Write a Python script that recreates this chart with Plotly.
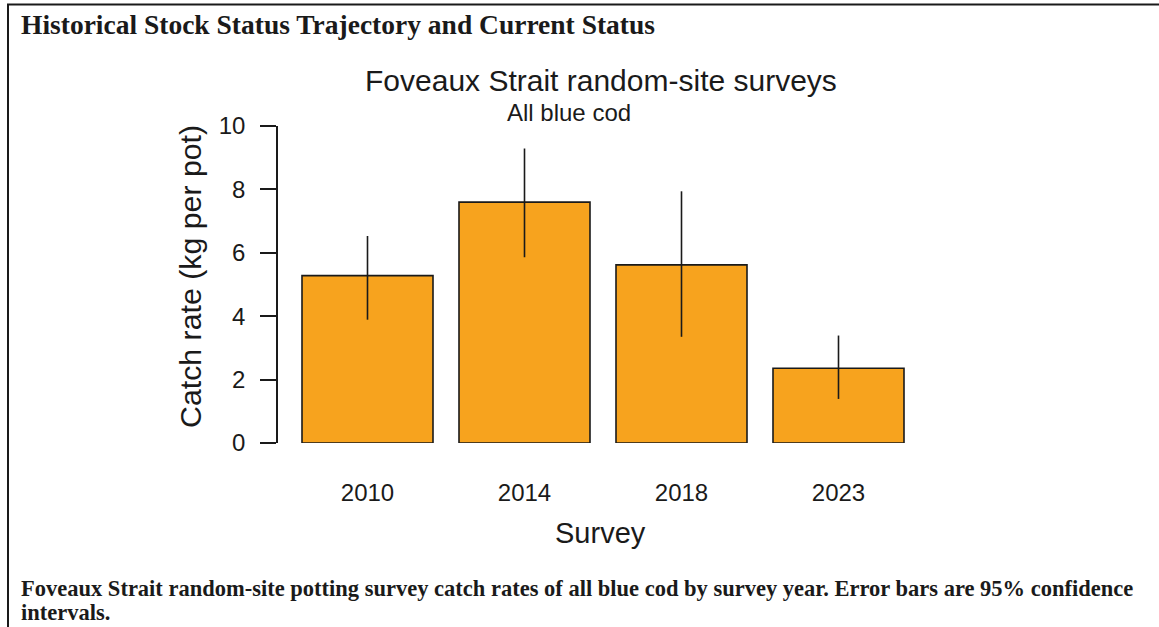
import plotly.graph_objects as go

# ---- data ----
years = ["2010", "2014", "2018", "2023"]
catch_rate = [5.28, 7.60, 5.62, 2.36]
ci_lower = [3.89, 5.86, 3.35, 1.39]
ci_upper = [6.53, 9.29, 7.94, 3.39]
y_ticks = [0, 2, 4, 6, 8, 10]

W, H = 1159, 627
PL, PR, PT, PB = 278, 918, 126, 443  # plot area in pixels


def px(xpix):
    return (xpix - PL) / (PR - PL)


def py(ypix):
    return (PB - ypix) / (PB - PT)


err_plus = [u - c for u, c in zip(ci_upper, catch_rate)]
err_minus = [c - l for c, l in zip(catch_rate, ci_lower)]

fig = go.Figure()
fig.add_trace(go.Bar(
    x=list(range(len(years))),
    y=catch_rate,
    marker=dict(color="#F7A31E", line=dict(color="#1a1a1a", width=1.6)),
    error_y=dict(type="data", symmetric=False, array=err_plus, arrayminus=err_minus,
                 width=0, thickness=1.6, color="#1a1a1a"),
    showlegend=False,
))

step = 157.0
x0 = -(367.5 - PL) / step
x1 = x0 + (PR - PL) / step

fig.update_layout(
    width=W, height=H,
    margin=dict(l=PL, r=W - PR, t=PT, b=H - PB),
    paper_bgcolor="white", plot_bgcolor="white",
    bargap=1 - 131 / 157,
    font=dict(family="Liberation Sans, Arial, sans-serif", color="#1a1a1a"),
    xaxis=dict(range=[x0, x1], tickmode="array", tickvals=list(range(len(years))),
               ticktext=years, showline=False, showgrid=False, zeroline=False,
               ticks="", tickfont=dict(size=24), ticklabelstandoff=33),
    yaxis=dict(range=[0, 10], tickvals=y_ticks, showline=True, linecolor="#1a1a1a",
               linewidth=1.6, ticks="outside", ticklen=16, tickwidth=1.6,
               tickcolor="#1a1a1a", showgrid=False, zeroline=False,
               tickfont=dict(size=24), ticklabelstandoff=10),
)

SANS = "Liberation Sans, Arial, sans-serif"
SERIF = "Liberation Serif, Times New Roman, serif"
ann = [
    dict(text="Foveaux Strait random-site surveys", x=px(601), y=py(80), size=30,
         family=SANS, xanchor="center"),
    dict(text="All blue cod", x=px(569), y=py(112), size=24, family=SANS, xanchor="center"),
    dict(text="Survey", x=px(600), y=py(533), size=29, family=SANS, xanchor="center"),
    dict(text="<b>Historical Stock Status Trajectory and Current Status</b>", x=px(19), y=py(24),
         size=27.5, family=SERIF, xanchor="left"),
    dict(text="<b>Foveaux Strait random-site potting survey catch rates of all blue cod by survey year. Error bars are 95% confidence</b>",
         x=px(19), y=py(588), size=22.5, family=SERIF, xanchor="left"),
    dict(text="<b>intervals.</b>", x=px(19), y=py(612), size=22.5, family=SERIF, xanchor="left"),
]
for a in ann:
    fig.add_annotation(text=a["text"], x=a["x"], y=a["y"], xref="paper", yref="paper",
                       xanchor=a["xanchor"], yanchor="middle", showarrow=False,
                       font=dict(size=a["size"], family=a["family"], color="#1a1a1a"))

fig.add_annotation(text="Catch rate (kg per pot)", x=px(190), y=py(277), xref="paper", yref="paper",
                   textangle=-90, xanchor="center", yanchor="middle", showarrow=False,
                   font=dict(size=30.3, family=SANS, color="#1a1a1a"))

# frame lines (top and left border of the table cell)
fig.add_shape(type="line", xref="paper", yref="paper", x0=px(7), x1=px(1159), y0=py(4.5), y1=py(4.5),
              line=dict(color="#1a1a1a", width=2))
fig.add_shape(type="line", xref="paper", yref="paper", x0=px(8), x1=px(8), y0=py(4), y1=py(627),
              line=dict(color="#1a1a1a", width=2))

fig.write_html("out.html", config={"displayModeBar": False},
               post_script="document.body.style.margin='0';document.body.style.overflow='hidden';")
